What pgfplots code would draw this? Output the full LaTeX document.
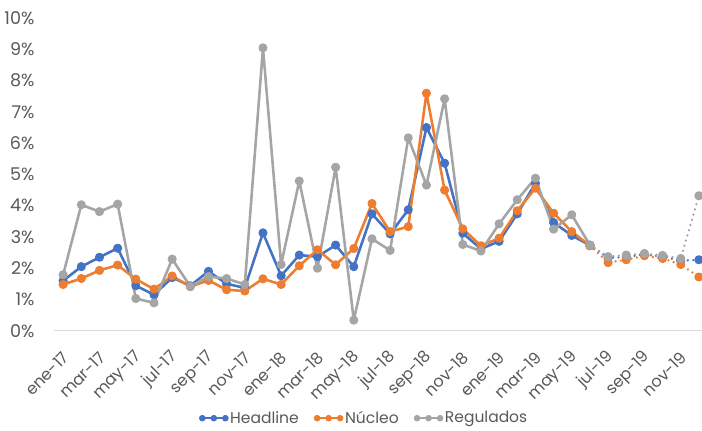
\documentclass[border=0pt]{standalone}
\usepackage{fontspec}
\setmainfont{Poppins}
\usepackage{pgfplots}
\usepackage{pgfplotstable}
\pgfplotsset{compat=1.18}
\definecolor{cblue}{HTML}{4472C4}
\definecolor{corange}{HTML}{ED7D31}
\definecolor{cgray}{HTML}{A5A5A5}
\definecolor{ctext}{HTML}{595959}
\definecolor{caxis}{HTML}{D9D9D9}
\pgfplotstableread{
i head nuc reg
0 1.60 1.48 1.79
1 2.05 1.67 4.03
2 2.35 1.93 3.81
3 2.64 2.10 4.05
4 1.44 1.65 1.03
5 1.15 1.33 0.89
6 1.70 1.75 2.29
7 1.44 1.41 1.42
8 1.90 1.61 1.73
9 1.50 1.31 1.67
10 1.37 1.27 1.48
11 3.13 1.66 9.05
12 1.76 1.48 2.12
13 2.42 2.08 4.79
14 2.37 2.59 2.00
15 2.74 2.11 5.23
16 2.05 2.63 0.34
17 3.74 4.07 2.94
18 3.10 3.17 2.57
19 3.87 3.33 6.17
20 6.50 7.60 4.66
21 5.36 4.50 7.42
22 3.12 3.26 2.76
23 2.62 2.72 2.55
24 2.86 2.96 3.42
25 3.74 3.84 4.19
26 4.72 4.56 4.88
27 3.46 3.76 3.25
28 3.05 3.17 3.71
29 2.73 2.72 2.74
30 2.33 2.18 2.37
31 2.36 2.27 2.42
32 2.44 2.40 2.47
33 2.37 2.31 2.41
34 2.24 2.12 2.31
35 2.27 1.72 4.32
}\datatable
\begin{document}
\begin{tikzpicture}[trim axis right]
\begin{axis}[
  scale only axis,
  width=480pt, height=231.5pt,
  xmin=-0.5, xmax=35.17,
  ymin=0, ymax=10,
  axis lines*=left,
  x axis line style={draw=caxis, line width=0.8pt, -},
  y axis line style={draw=none},
  major tick length=0pt,
  xtick={0,2,...,34},
  xticklabels={ene-17,mar-17,may-17,jul-17,sep-17,nov-17,ene-18,mar-18,may-18,jul-18,sep-18,nov-18,ene-19,mar-19,may-19,jul-19,sep-19,nov-19},
  x tick label style={xshift=3pt, yshift=-17pt, rotate=45, anchor=east, font=\fontsize{12}{14}\selectfont, text=ctext, inner sep=1pt},
  ytick={0,1,...,10},
  yticklabels={0\%,1\%,2\%,3\%,4\%,5\%,6\%,7\%,8\%,9\%,10\%},
  y tick label style={font=\fontsize{13}{15}\selectfont, text=ctext, xshift=-11pt},
  clip=false,
  legend columns=3,
  legend style={draw=none, at={(0.48,-0.28)}, anchor=center, font=\fontsize{11.5}{14}\selectfont, text=ctext, /tikz/every even column/.append style={column sep=10pt}},
  legend image code/.code={\draw[#1, mark size=1.6pt, line width=1.6pt] plot coordinates {(0cm,0cm)(0.3cm,0cm)(0.6cm,0cm)};},
  every axis plot/.append style={line width=1.9pt, mark=*, mark size=2.4pt, line join=round},
]
\addplot[cblue, mark options={fill=cblue, draw=cblue}, restrict x to domain=0:29] table[x=i,y=head] {\datatable};
\addlegendentry{Headline}
\addplot[corange, mark options={fill=corange, draw=corange}, restrict x to domain=0:29] table[x=i,y=nuc] {\datatable};
\addlegendentry{Núcleo}
\addplot[cgray, mark options={fill=cgray, draw=cgray}, restrict x to domain=0:29] table[x=i,y=reg] {\datatable};
\addlegendentry{Regulados}
\addplot[cblue, forget plot, line cap=round, dash pattern=on 0pt off 4pt, mark options={fill=cblue, draw=cblue, solid}, restrict x to domain=29:35] table[x=i,y=head] {\datatable};
\addplot[corange, forget plot, line cap=round, dash pattern=on 0pt off 4pt, mark options={fill=corange, draw=corange, solid}, restrict x to domain=29:35] table[x=i,y=nuc] {\datatable};
\addplot[cgray, forget plot, line cap=round, dash pattern=on 0pt off 4pt, mark options={fill=cgray, draw=cgray, solid}, restrict x to domain=29:35] table[x=i,y=reg] {\datatable};
\end{axis}
\path ([yshift=13.5pt]current axis.north west);
\end{tikzpicture}
\end{document}
